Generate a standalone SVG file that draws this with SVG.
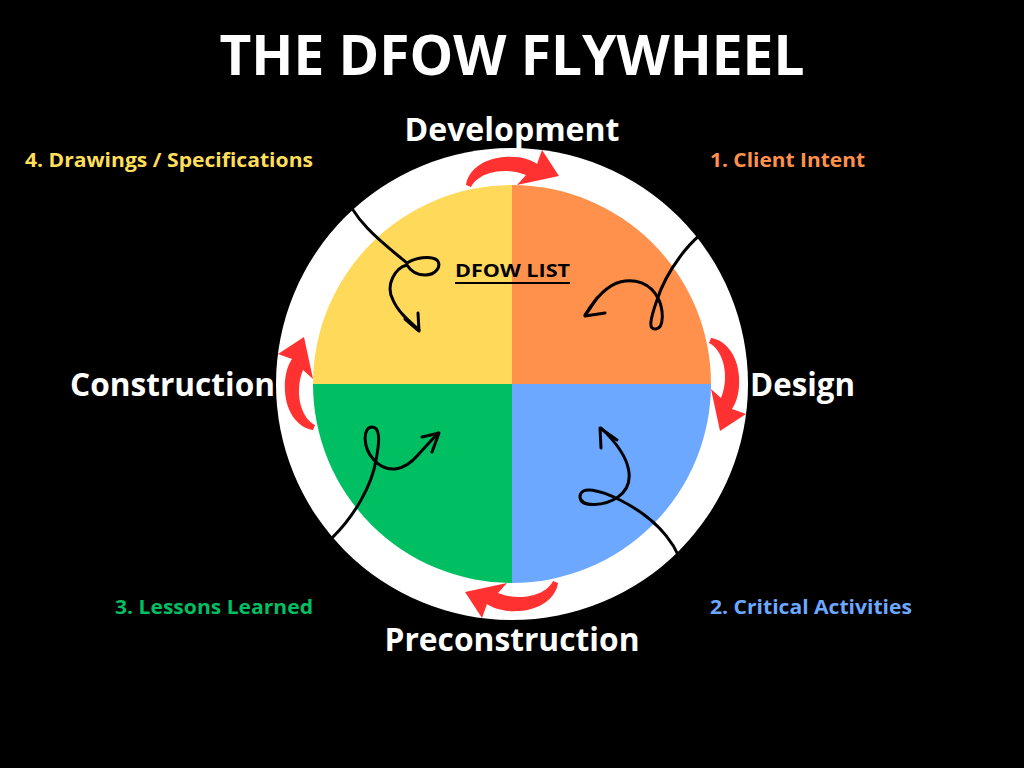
<svg xmlns="http://www.w3.org/2000/svg" xmlns:xlink="http://www.w3.org/1999/xlink" width="1024" height="768" viewBox="0 0 1024 768">
<style>
text{font-family:"Open Sans","Noto Sans","Liberation Sans",sans-serif;font-weight:700}
.title{font-size:56px;fill:#ffffff}
.stage{font-size:32px;fill:#ffffff;font-weight:700}
.lbl{font-size:19px;font-weight:700}
.curl{fill:none;stroke:#000000;stroke-width:3;stroke-linecap:round;stroke-linejoin:round}
.red{fill:#ff3131}
</style>
<defs>
<path id="redArrow" class="red" d="M466,185 C468,170 484,158 505,157 C521,156 531,160 537,164 L542,150 L559,176 L517,185 L526,175 C514,170 500,170 490,173 C480,176 474,181 471,187 Z"/>
</defs>
<rect width="1024" height="768" fill="#000000"/>
<g id="title"><text class="title" x="512" y="75" text-anchor="middle" textLength="585" lengthAdjust="spacingAndGlyphs">THE DFOW FLYWHEEL</text></g>
<g id="wheel">
<circle cx="512" cy="384" r="236" fill="#ffffff"/>
</g>
<g id="q-drawings">
<path d="M512,384 L313,384 A199,199 0 0 1 512,185 Z" fill="#ffd95a"/>
<text class="lbl" x="25" y="167" fill="#ffde59" textLength="288" lengthAdjust="spacingAndGlyphs">4. Drawings / Specifications</text>
</g>
<g id="q-client">
<path d="M512,384 L512,185 A199,199 0 0 1 711,384 Z" fill="#ff914d"/>
<text class="lbl" x="710" y="167" fill="#ff914d" textLength="155" lengthAdjust="spacingAndGlyphs">1. Client Intent</text>
</g>
<g id="q-critical">
<path d="M512,384 L711,384 A199,199 0 0 1 512,583 Z" fill="#6ca8ff"/>
<text class="lbl" x="710" y="614" fill="#6ca8ff" textLength="202" lengthAdjust="spacingAndGlyphs">2. Critical Activities</text>
</g>
<g id="q-lessons">
<path d="M512,384 L512,583 A199,199 0 0 1 313,384 Z" fill="#00bf63"/>
<text class="lbl" x="115" y="614" fill="#00bf63" textLength="198" lengthAdjust="spacingAndGlyphs">3. Lessons Learned</text>
</g>
<g id="dfow-list">
<text x="455" y="277" font-size="18" fill="#000000" textLength="115" lengthAdjust="spacingAndGlyphs">DFOW LIST</text>
<line x1="455" y1="283" x2="570" y2="283" stroke="#000000" stroke-width="2"/>
</g>
<g id="stage-development"><text class="stage" x="512" y="141" text-anchor="middle" textLength="215" lengthAdjust="spacingAndGlyphs">Development</text></g>
<g id="stage-design"><text class="stage" x="750" y="396" textLength="105" lengthAdjust="spacingAndGlyphs">Design</text></g>
<g id="stage-preconstruction"><text class="stage" x="512" y="651" text-anchor="middle" textLength="255" lengthAdjust="spacingAndGlyphs">Preconstruction</text></g>
<g id="stage-construction"><text class="stage" x="70" y="396" textLength="205" lengthAdjust="spacingAndGlyphs">Construction</text></g>
<g id="connectors">
<use xlink:href="#redArrow"/>
<use xlink:href="#redArrow" transform="rotate(90 512 384)"/>
<use xlink:href="#redArrow" transform="rotate(180 512 384)"/>
<use xlink:href="#redArrow" transform="rotate(270 512 384)"/>
<path class="curl" d="M345,192 C352,220 385,245 407,263 C415,258 430,255 437,260 C442,266 436,275 425,275 C415,275 410,270 407,265 C395,268 385,285 393,300 C398,312 410,322 419,330"/>
<path class="curl" d="M405,319 L419,331 L418,313"/>
<path class="curl" d="M718,224 C690,235 665,275 657,300 C650,320 648,330 656,329 C664,328 664,310 658,298 C650,283 635,278 620,282 C605,286 593,302 585,315"/>
<path class="curl" d="M597,298 L585,316 L605,313"/>
<path class="curl" d="M684,577 C682,550 660,520 620,500 C600,490 580,485 580,497 C581,508 605,506 618,497 C635,485 635,460 601,428"/>
<path class="curl" d="M601,448 L600,428 L617,440"/>
<path class="curl" d="M333,537 C355,515 372,485 376,460 C380,440 380,427 372,427 C363,427 362,447 374,460 C388,475 405,470 418,455 C425,447 432,440 438,433"/>
<path class="curl" d="M422,437 L439,433 L432,452"/>
</g>
</svg>
